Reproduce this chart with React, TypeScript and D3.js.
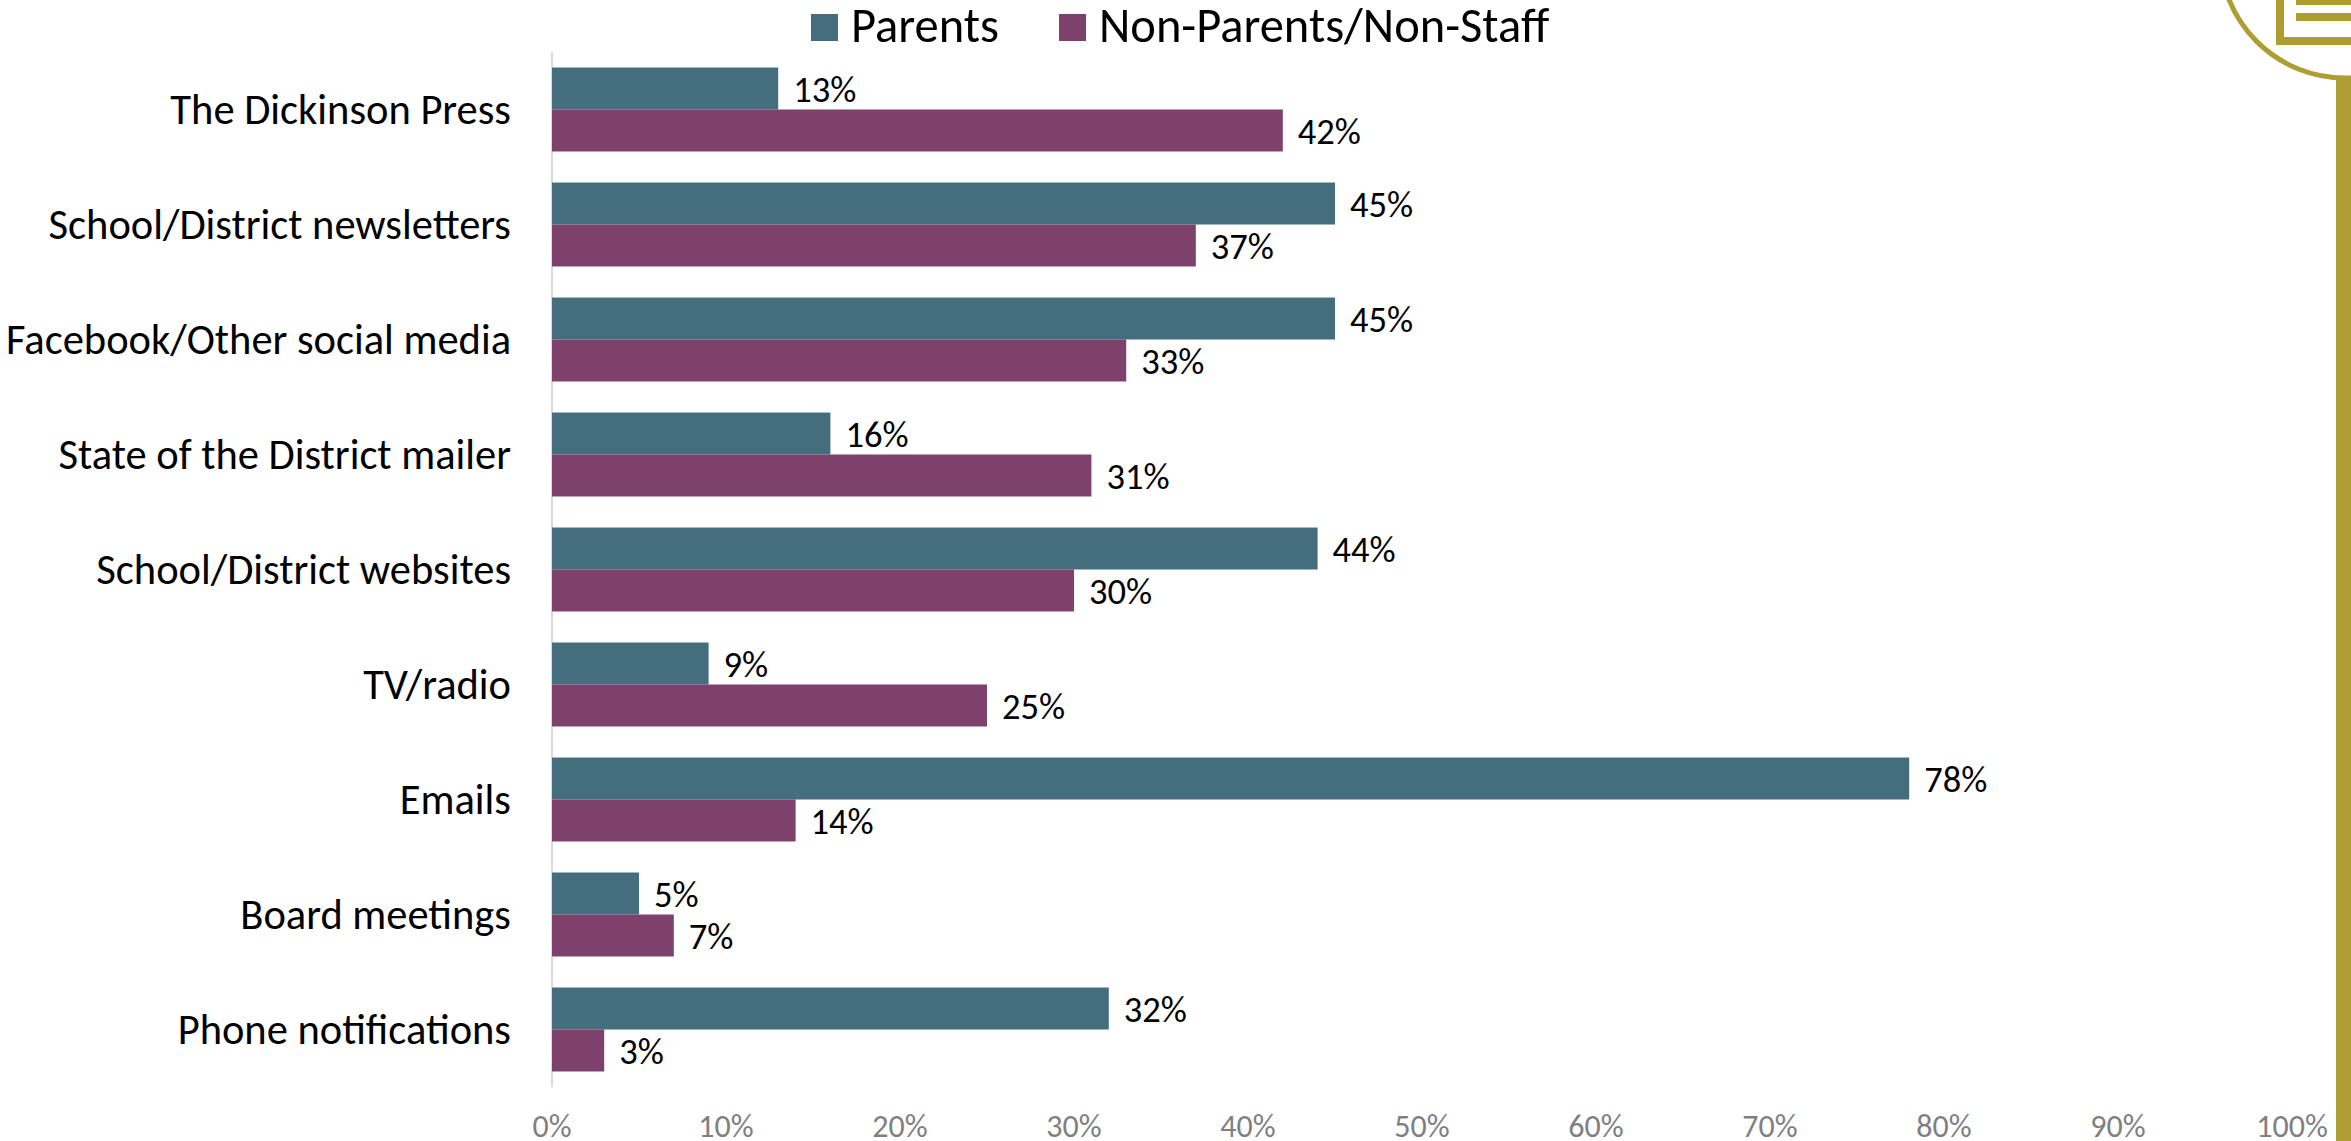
import React, { useEffect, useRef } from "react";
import * as d3 from "d3";

const categories = [
  "The Dickinson Press",
  "School/District newsletters",
  "Facebook/Other social media",
  "State of the District mailer",
  "School/District websites",
  "TV/radio",
  "Emails",
  "Board meetings",
  "Phone notifications",
];
const parents = [13, 45, 45, 16, 44, 9, 78, 5, 32];
const nonParents = [42, 37, 33, 31, 30, 25, 14, 7, 3];
const xTicks = [0, 10, 20, 30, 40, 50, 60, 70, 80, 90, 100];
const seriesNames = ["Parents", "Non-Parents/Non-Staff"];
const seriesColors = ["#446d7e", "#7d416b"];

const width = 2351;
const height = 1141;
const font = "Carlito, Calibri, Lato, 'Open Sans', sans-serif";
const gold = "#ae9e32";

const App = () => {
  const ref = useRef<SVGSVGElement>(null);

  useEffect(() => {
    const svg = d3.select(ref.current);
    svg.selectAll("*").remove();

    const x = d3.scaleLinear().domain([0, 100]).range([552, 2292]);
    const y = d3
      .scaleBand()
      .domain(categories)
      .range([52, 1087])
      .paddingInner(0.27)
      .paddingOuter(0.135);
    const inner = d3
      .scaleBand()
      .domain(seriesNames)
      .range([0, y.bandwidth()]);

    // y axis line
    svg
      .append("line")
      .attr("x1", x(0))
      .attr("x2", x(0))
      .attr("y1", 52)
      .attr("y2", 1087)
      .attr("stroke", "#d9d9d9")
      .attr("stroke-width", 2);

    [parents, nonParents].forEach((values, s) => {
      const name = seriesNames[s];
      svg
        .append("g")
        .selectAll("rect")
        .data(values)
        .enter()
        .append("rect")
        .attr("x", x(0))
        .attr("y", (d, i) => y(categories[i]) + inner(name))
        .attr("width", (d) => x(d) - x(0))
        .attr("height", inner.bandwidth())
        .attr("fill", seriesColors[s]);

      svg
        .append("g")
        .selectAll("text")
        .data(values)
        .enter()
        .append("text")
        .attr("x", (d) => x(d) + 15)
        .attr("y", (d, i) => y(categories[i]) + inner(name) + inner.bandwidth() / 2)
        .attr("dy", "0.36em")
        .attr("font-family", font)
        .attr("font-size", 36.5)
        .attr("fill", "#000")
        .text((d) => d + "%");
    });

    // category labels
    svg
      .append("g")
      .selectAll("text")
      .data(categories)
      .enter()
      .append("text")
      .attr("x", 511)
      .attr("y", (d) => y(d) + y.bandwidth() / 2)
      .attr("dy", "0.35em")
      .attr("text-anchor", "end")
      .attr("font-family", font)
      .attr("font-size", 42.5)
      .attr("fill", "#000")
      .text((d) => d);

    // x tick labels
    svg
      .append("g")
      .selectAll("text")
      .data(xTicks)
      .enter()
      .append("text")
      .attr("x", (d) => x(d))
      .attr("y", 1137)
      .attr("text-anchor", "middle")
      .attr("font-family", font)
      .attr("font-size", 32)
      .attr("fill", "#7f7f7f")
      .text((d) => d + "%");

    // legend
    const legendX = [811, 1059];
    seriesNames.forEach((name, i) => {
      svg
        .append("rect")
        .attr("x", legendX[i])
        .attr("y", 14)
        .attr("width", 27)
        .attr("height", 27)
        .attr("fill", seriesColors[i]);
      svg
        .append("text")
        .attr("x", legendX[i] + 40)
        .attr("y", 42)
        .attr("font-family", font)
        .attr("font-size", 48.5)
        .attr("fill", "#000")
        .text(name);
    });

    // corner logo
    svg
      .append("circle")
      .attr("cx", 2345)
      .attr("cy", -47)
      .attr("r", 125)
      .attr("fill", "#fff")
      .attr("stroke", gold)
      .attr("stroke-width", 5);
    svg.append("rect").attr("x", 2336).attr("y", 77).attr("width", 15).attr("height", 1064).attr("fill", gold);
    svg
      .append("path")
      .attr("d", "M2280,0V41H2351")
      .attr("fill", "none")
      .attr("stroke", gold)
      .attr("stroke-width", 8);
    svg.append("rect").attr("x", 2296).attr("y", 0).attr("width", 55).attr("height", 5).attr("fill", gold);
    svg.append("rect").attr("x", 2296).attr("y", 13).attr("width", 55).attr("height", 8).attr("fill", gold);
  }, []);

  return (
    <svg
      ref={ref}
      width={width}
      height={height}
      style={{ position: "absolute", left: 0, top: 0, display: "block", background: "#fff" }}
    />
  );
};

export default App;
